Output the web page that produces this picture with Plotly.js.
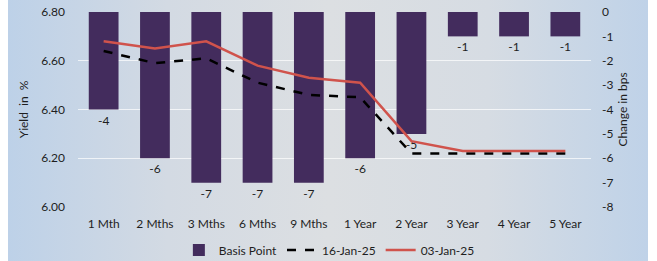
<!DOCTYPE html>
<html>
<head>
<meta charset="utf-8">
<script src="https://cdn.plot.ly/plotly-3.0.1.min.js"></script>
<style>
  html, body { margin:0; padding:0; background:#ffffff; }
  #bg { position:absolute; left:8px; top:0; width:640px; height:261px;
        background: linear-gradient(90deg, #bdd1e8 0%, #d3dae3 25%, #dcdfe2 50%, #d6dce3 75%, #bfd2e8 100%); }
  #chart { position:absolute; left:0; top:0; width:657px; height:261px; }
</style>
</head>
<body>
<div id="bg"></div>
<div id="chart"></div>
<script>
const categories = ['1 Mth','2 Mths','3 Mths','6 Mths','9 Mths','1 Year','2 Year','3 Year','4 Year','5 Year'];
const basisPoint = [-4, -6, -7, -7, -7, -6, -5, -1, -1, -1];
const yield16Jan = [6.64, 6.59, 6.61, 6.51, 6.46, 6.45, 6.22, 6.22, 6.22, 6.22];
const yield03Jan = [6.68, 6.65, 6.68, 6.58, 6.53, 6.51, 6.27, 6.23, 6.23, 6.23];
const leftTicks = [6.0, 6.2, 6.4, 6.6, 6.8];
const rightTicks = [0, -1, -2, -3, -4, -5, -6, -7, -8];

const font = {family: 'Lato, "Open Sans", sans-serif', size: 12, color: '#1e1e1e'};

const traces = [
  {
    type: 'bar', name: 'Basis Point', x: categories, y: basisPoint,
    yaxis: 'y',
    marker: {color: '#432c5d'},
    text: basisPoint.map(String), textposition: 'outside',
    textfont: {family: font.family, size: 12, color: '#1e1e1e'},
    cliponaxis: false, hoverinfo: 'none'
  },
  {
    type: 'scatter', mode: 'lines', name: '16-Jan-25', x: categories, y: yield16Jan,
    yaxis: 'y2', line: {color: '#000000', width: 2.5, dash: 'dash'}
  },
  {
    type: 'scatter', mode: 'lines', name: '03-Jan-25', x: categories, y: yield03Jan,
    yaxis: 'y2', line: {color: '#d0534c', width: 2.5}
  }
];

const layout = {
  width: 657, height: 261,
  margin: {l: 78, r: 66, t: 12, b: 54, autoexpand: false},
  paper_bgcolor: 'rgba(0,0,0,0)', plot_bgcolor: 'rgba(0,0,0,0)',
  font: font,
  showlegend: true,
  bargap: 0.42,
  legend: {orientation: 'h', x: 0.49, xanchor: 'center', y: -0.22, yanchor: 'middle',
           font: font, bgcolor: 'rgba(0,0,0,0)', traceorder: 'normal'},
  xaxis: {type: 'category', showgrid: false, zeroline: false, showline: false,
          ticks: '', ticklabelstandoff: 8, tickfont: font, automargin: false},
  yaxis: {side: 'right', range: [-8, 0], tickvals: rightTicks, ticktext: rightTicks.map(String),
          showgrid: false, zeroline: false, showline: false, ticks: '',
          ticklabelstandoff: 10, tickfont: font, automargin: false,
          title: {text: 'Change in bps', font: font, standoff: 6}},
  yaxis2: {overlaying: 'y', side: 'left', range: [6.0, 6.8], tickvals: leftTicks,
           ticktext: leftTicks.map(v => v.toFixed(2)),
           showgrid: true, gridcolor: 'rgba(255,255,255,0.7)', gridwidth: 1,
           zeroline: false, showline: false, ticks: '', ticklabelstandoff: 12, tickfont: font,
           automargin: false,
           title: {text: 'Yield  in  %', font: font, standoff: 10}}
};

Plotly.newPlot('chart', traces, layout, {displayModeBar: false, staticPlot: true});
</script>
</body>
</html>
